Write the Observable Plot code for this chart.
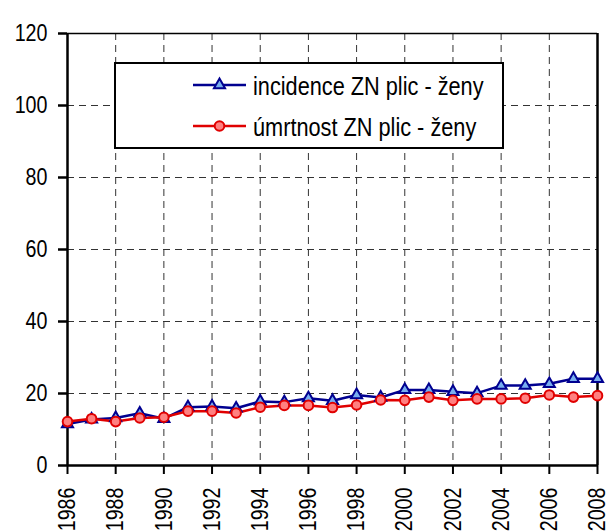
<!DOCTYPE html>
<html><head><meta charset="utf-8">
<script src="https://cdn.jsdelivr.net/npm/d3@7"></script>
<script src="https://cdn.jsdelivr.net/npm/@observablehq/plot@0.6"></script>
<style>
body{margin:0;background:#fff;font-family:"Liberation Sans",Arial,sans-serif;}
#wrap{position:relative;width:607px;height:531px;overflow:hidden;}
#legend{position:absolute;left:114px;top:62px;width:386px;height:83px;border:2px solid #000;background:#fff;box-sizing:content-box;}
#legend svg{position:absolute;left:0;top:0;}
</style></head><body>
<div id="wrap"></div>
<script>
const years = [1986,1987,1988,1989,1990,1991,1992,1993,1994,1995,1996,1997,1998,1999,2000,2001,2002,2003,2004,2005,2006,2007,2008];
const incidence = [11.5,12.8,13.2,14.5,13.0,16.2,16.4,15.9,17.8,17.6,18.7,18.0,19.6,18.9,21.0,21.0,20.5,20.1,22.2,22.2,22.7,24.1,24.1];
const mortality = [12.2,13.0,12.2,13.2,13.4,15.1,15.1,14.6,16.2,16.7,16.7,16.1,16.8,18.2,18.1,19.0,18.1,18.5,18.5,18.7,19.6,19.0,19.4];
const xTicks = [1986,1988,1990,1992,1994,1996,1998,2000,2002,2004,2006,2008];
const yTicks = [0,20,40,60,80,100,120];
const seriesNames = ["incidence ZN plic - ženy","úmrtnost ZN plic - ženy"];

const inc = years.map((y,i)=>({year:y,value:incidence[i]}));
const mor = years.map((y,i)=>({year:y,value:mortality[i]}));

const navy = "#000090", lightBlue = "#78aef0", red = "#e00000", pink = "#ff8080";
const font = '"Liberation Sans",Arial,sans-serif';
const narrow = 0.82;

const chart = Plot.plot({
  width:607, height:531,
  marginLeft:67, marginRight:10, marginTop:33, marginBottom:66,
  style:{fontFamily:font, fontSize:"24px", color:"#000", background:"#fff"},
  x:{domain:[1986,2008]},
  y:{domain:[0,120]},
  marks:[
    Plot.gridX(xTicks.slice(1,-1),{stroke:"#333",strokeOpacity:1,strokeWidth:1,strokeDasharray:"7,5"}),
    Plot.gridY(yTicks.slice(1,-1),{stroke:"#333",strokeOpacity:1,strokeWidth:1,strokeDasharray:"7,5"}),
    Plot.ruleY([120],{stroke:"#000",strokeWidth:1.5}),
    Plot.ruleX([2008],{stroke:"#000",strokeWidth:2.5}),
    Plot.ruleX([1986],{stroke:"#000",strokeWidth:2.5}),
    Plot.ruleY([0],{stroke:"#000",strokeWidth:2.5}),
    Plot.axisY({ticks:yTicks,tickSize:9,tickPadding:11,tickFormat:d=>String(d),label:null,fontSize:24,strokeWidth:2.5}),
    Plot.axisX({ticks:xTicks,tickSize:9,tickPadding:13,tickRotate:-90,tickFormat:d=>String(d),label:null,fontSize:24,strokeWidth:2}),
    Plot.line(inc,{x:"year",y:"value",stroke:navy,strokeWidth:2.5}),
    Plot.line(mor,{x:"year",y:"value",stroke:red,strokeWidth:2.5}),
    Plot.dot(inc,{x:"year",y:"value",symbol:"triangle",r:4.1,fill:lightBlue,stroke:navy,strokeWidth:2}),
    Plot.dot(mor,{x:"year",y:"value",symbol:"circle",r:4.8,fill:pink,stroke:red,strokeWidth:2})
  ]
});
// narrow the axis tick labels (Arial Narrow look)
chart.querySelectorAll('g[aria-label="y-axis tick label"] text, g[aria-label="x-axis tick label"] text').forEach(t=>{
  const tr = t.getAttribute("transform") || "";
  t.setAttribute("transform", tr + ` scale(${narrow},1)`);
});
const wrap = document.getElementById("wrap");
wrap.appendChild(chart);

// legend
const leg = document.createElement("div");
leg.id = "legend";
const ns = "http://www.w3.org/2000/svg";
const svg = document.createElementNS(ns,"svg");
svg.setAttribute("width","386"); svg.setAttribute("height","83");
const items = [
  {name:seriesNames[0], stroke:navy, fill:lightBlue, sym:"triangle", cy:21},
  {name:seriesNames[1], stroke:red, fill:pink, sym:"circle", cy:62}
];
items.forEach(it=>{
  const l = document.createElementNS(ns,"line");
  l.setAttribute("x1",77); l.setAttribute("x2",130);
  l.setAttribute("y1",it.cy); l.setAttribute("y2",it.cy);
  l.setAttribute("stroke",it.stroke); l.setAttribute("stroke-width",2.5);
  svg.appendChild(l);
  const p = document.createElementNS(ns,"path");
  const sym = it.sym==="triangle" ? d3.symbolTriangle : d3.symbolCircle;
  const size = it.sym==="triangle" ? Math.PI*4.1*4.1 : Math.PI*4.8*4.8;
  p.setAttribute("d", d3.symbol(sym,size)());
  p.setAttribute("transform",`translate(103.5,${it.cy})`);
  p.setAttribute("fill",it.fill); p.setAttribute("stroke",it.stroke); p.setAttribute("stroke-width",2);
  svg.appendChild(p);
  const t = document.createElementNS(ns,"text");
  t.setAttribute("transform",`translate(137,${it.cy}) scale(${narrow},1)`);
  t.setAttribute("dy","0.36em");
  t.setAttribute("font-size","26.5");
  t.setAttribute("font-family",font);
  t.textContent = it.name;
  svg.appendChild(t);
});
leg.appendChild(svg);
wrap.appendChild(leg);
</script>
</body></html>
